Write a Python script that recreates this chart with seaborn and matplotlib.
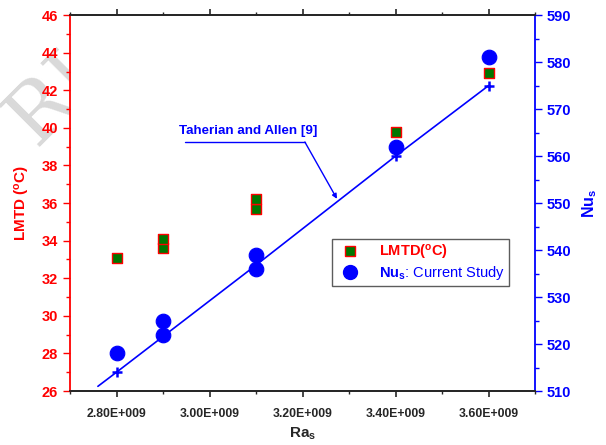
import pandas as pd
import matplotlib.pyplot as plt
import seaborn as sns
from matplotlib.lines import Line2D
from matplotlib.ticker import MultipleLocator, FixedLocator

# datos
ra = [2.8e9, 2.9e9, 2.9e9, 3.1e9, 3.1e9, 3.4e9, 3.6e9]
lmtd = [33.1, 33.6, 34.1, 35.7, 36.2, 39.8, 42.9]
nu_ra = [2.8e9, 2.9e9, 2.9e9, 3.1e9, 3.1e9, 3.4e9, 3.6e9]
nu = [518, 522, 525, 536, 539, 562, 581]
tah_ra = [2.76e9, 2.8e9, 2.9e9, 3.1e9, 3.4e9, 3.6e9]
tah_nu = [511, 514, 521.6, 536.8, 560, 575]
xticks = [2.8e9, 3.0e9, 3.2e9, 3.4e9, 3.6e9]
xlabels = ['2.80E+009', '3.00E+009', '3.20E+009', '3.40E+009', '3.60E+009']

sns.set_style('ticks')
plt.rcParams['font.family'] = ['Liberation Sans', 'DejaVu Sans']
plt.rcParams['mathtext.fontset'] = 'custom'
plt.rcParams['mathtext.rm'] = 'Liberation Sans'
plt.rcParams['mathtext.bf'] = 'Liberation Sans:bold'
plt.rcParams['mathtext.it'] = 'Liberation Sans:italic'

df1 = pd.DataFrame({'ra': ra, 'lmtd': lmtd})
df2 = pd.DataFrame({'ra': nu_ra, 'nu': nu})
df3 = pd.DataFrame({'ra': tah_ra, 'nu': tah_nu})

fig = plt.figure(figsize=(6.06, 4.45), dpi=100)
# marca de agua (detras de los ejes)
fig.text(-0.012, 0.68, 'RI', rotation=45, fontsize=58, family='DejaVu Serif',
         color='#d9d9d9', zorder=-5)
ax = fig.add_axes([0.1155, 0.1213, 0.7675, 0.8447])
ax.patch.set_alpha(0)
ax2 = ax.twinx()
ax2.patch.set_visible(True)
ax2.patch.set_facecolor('white')

RED = '#ff0000'
BLUE = '#0000ff'

sns.lineplot(data=df3, x='ra', y='nu', ax=ax2, color=BLUE, lw=1.2, zorder=2)
sns.scatterplot(data=df3.iloc[1:], x='ra', y='nu', ax=ax2, marker='+', s=60,
                color=BLUE, linewidth=1.8, zorder=3)
sns.scatterplot(data=df2, x='ra', y='nu', ax=ax2, marker='o', s=110,
                color=BLUE, edgecolor=BLUE, zorder=4)
sns.scatterplot(data=df1, x='ra', y='lmtd', ax=ax, marker='s', s=60,
                color='#007700', edgecolor=RED, linewidth=1.0, zorder=5)
ax.set_zorder(ax2.get_zorder() + 1)

ax.set_xlim(2.7e9, 3.7e9)
ax.set_ylim(26, 46)
ax2.set_ylim(510, 590)

ax.xaxis.set_major_locator(FixedLocator(xticks))
ax.set_xticklabels(xlabels, fontsize=8.8, fontweight='bold')
ax.xaxis.set_minor_locator(MultipleLocator(1e8))
ax.yaxis.set_major_locator(MultipleLocator(2))
ax.yaxis.set_minor_locator(MultipleLocator(1))
ax2.yaxis.set_major_locator(MultipleLocator(10))
ax2.yaxis.set_minor_locator(MultipleLocator(5))

for lab in ax.get_yticklabels():
    lab.set_fontweight('bold')
for lab in ax2.get_yticklabels():
    lab.set_fontweight('bold')
ax.tick_params(axis='y', which='both', colors=RED, labelsize=10.5, direction='out')
ax.tick_params(axis='y', which='major', length=5, width=1)
ax.tick_params(axis='y', which='minor', length=3, width=1)
ax2.tick_params(axis='y', which='both', colors=BLUE, labelsize=10.5, direction='out')
ax2.tick_params(axis='y', which='major', length=5, width=1)
ax2.tick_params(axis='y', which='minor', length=3, width=1)
ax.tick_params(axis='x', which='major', length=4, width=1.2, pad=8, top=True)
ax.tick_params(axis='x', which='minor', length=2.5, width=1, top=True)

for a in (ax, ax2):
    for s in a.spines.values():
        s.set_linewidth(1.3)
        s.set_visible(True)
ax.spines['left'].set_color(RED)
ax2.spines['left'].set_visible(False)
ax.spines['right'].set_visible(False)
ax2.spines['right'].set_color(BLUE)

ax.set_xlabel('Ra$_\\mathbf{s}$', fontsize=11, fontweight='bold', labelpad=4)
ax.set_ylabel('LMTD ($^\\mathbf{o}$C)', fontsize=11, fontweight='bold', color=RED, labelpad=7)
ax2.set_ylabel('Nu$_\\mathbf{s}$', fontsize=11.5, fontweight='bold', color=BLUE, labelpad=6)

# anotacion Taherian
ax2.text(3.083e9, 564.6, 'Taherian and Allen [9]', color=BLUE, fontsize=9.6,
         fontweight='bold', ha='center', va='baseline')
ax2.plot([2.947e9, 3.205e9], [563, 563], color=BLUE, lw=1)
ax2.annotate('', xy=(3.274e9, 550.9), xytext=(3.205e9, 563),
             arrowprops=dict(arrowstyle='-|>', color=BLUE, lw=1,
                             mutation_scale=7, shrinkA=0, shrinkB=0))

handles = [
    Line2D([], [], ls='', marker='s', ms=7, mfc='#007700', mec=RED, mew=1),
    Line2D([], [], ls='', marker='o', ms=10, mfc=BLUE, mec=BLUE),
]
leg = ax.legend(handles, ['LMTD($^\\mathbf{o}$C)', '$\\mathbf{Nu_s}$: Current Study'],
                loc='upper left', bbox_to_anchor=(0.548, 0.425), fontsize=10.5,
                frameon=True, fancybox=False, edgecolor='#333333',
                handletextpad=1.0, borderpad=0.3, labelspacing=0.15,
                handlelength=1.9)
leg.get_frame().set_linewidth(1)
leg.get_texts()[0].set_color(RED)
leg.get_texts()[0].set_fontweight('bold')
leg.get_texts()[1].set_color(BLUE)
leg.set_zorder(10)

plt.savefig('out.png', dpi=100)
